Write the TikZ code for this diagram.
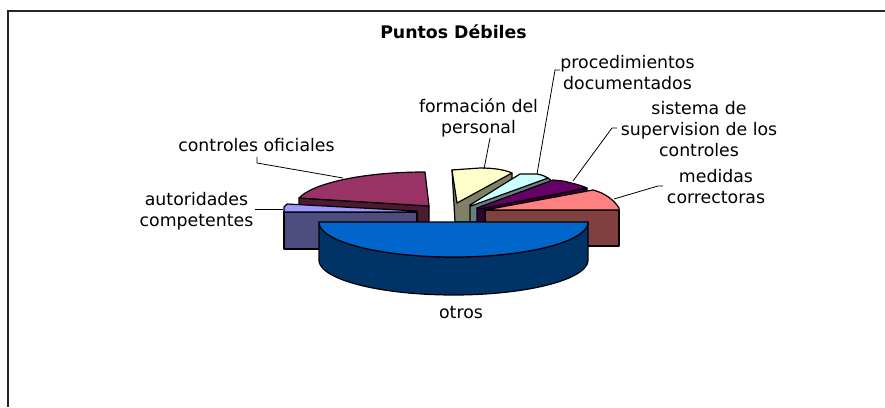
\documentclass[tikz,border=0pt]{standalone}
\usepackage{fontspec}
\setmainfont{DejaVu Sans}
\definecolor{coTop}{HTML}{993366}
\definecolor{coSide}{HTML}{4D1A33}
\definecolor{auTop}{HTML}{9999FF}
\definecolor{auSide}{HTML}{4D4D80}
\definecolor{foTop}{HTML}{FFFFCC}
\definecolor{foSide}{HTML}{808066}
\definecolor{prTop}{HTML}{CCFFFF}
\definecolor{prSide}{HTML}{668080}
\definecolor{siTop}{HTML}{660066}
\definecolor{siSide}{HTML}{330033}
\definecolor{meTop}{HTML}{FF8080}
\definecolor{meSide}{HTML}{804040}
\definecolor{otTop}{HTML}{0066CC}
\definecolor{otSide}{HTML}{003366}
\begin{document}
\begin{tikzpicture}[x=0.75pt,y=-0.75pt,
  lab/.style={font=\fontsize{13}{15.75}\selectfont, align=center, inner sep=0pt, anchor=base},
  sl/.style={draw=black, line width=0.9pt, line join=round},
  ldr/.style={draw=black, line width=0.6pt}]
\useasboundingbox (0,0) rectangle (885,407);
% frame
\draw[line width=1.3pt, black!85] (8,407) -- (8,10.7) -- (885,10.7);
% title
\node[font=\bfseries\fontsize{13}{15.5}\selectfont, anchor=base, inner sep=0pt] (title) at (453.5,38) {Puntos Débiles};

% controles oficiales
\filldraw[sl, fill=coSide] (299,198) -- (429,206) -- (429,240) -- (299,240) -- cycle;
\filldraw[sl, fill=coTop] (299,198) .. controls (312,184) and (360,172) .. (425,172) -- (429,206) -- cycle;
% autoridades competentes
\filldraw[sl, fill=auSide] (284,212) rectangle (417,249);
\filldraw[sl, fill=auTop] (284,207) -- (287,204) -- (417,211) -- (417,212) -- (284,212) -- cycle;
% formacion del personal
\filldraw[sl, fill=foSide] (452,170) -- (512,173) -- (512,200) -- (470,222) -- (455,222) -- cycle;
\filldraw[sl, fill=foTop] (452,170) -- (480,168) .. controls (495,168) and (505,170) .. (512,173) -- (457,203) -- cycle;
% procedimientos documentados
\filldraw[sl, fill=prSide] (470,205) -- (548,178) -- (553,182) -- (478,210) -- (478,222) -- (470,222) -- cycle;
\filldraw[sl, fill=prTop] (470,205) -- (520,174) -- (537,174) .. controls (542,175) and (545,176) .. (548,178) -- (471,206) -- cycle;
% sistema de supervision
\filldraw[sl, fill=siSide] (477,208) -- (587,188) -- (587,192) -- (485,212) -- (485,222) -- (477,222) -- cycle;
\filldraw[sl, fill=siTop] (477,208) -- (553,180) -- (563,181) .. controls (572,183) and (580,185) .. (587,188) -- (479,209) -- cycle;
% medidas correctoras
\filldraw[sl, fill=meSide] (485,210) rectangle (619,246);
\filldraw[sl, fill=meTop] (485,210) -- (593,190) .. controls (605,193) and (614,200) .. (619,208) -- (619,210) -- cycle;
% otros
\filldraw[sl, fill=otSide] (588,222) -- (588,260)
  -- plot[domain=0:180, samples=90] ({453.5+134.5*cos(\x)},{260+35*sin(\x)})
  -- (319,222)
  -- plot[domain=180:0, samples=90] ({453.5+134.5*cos(\x)},{222+35*sin(\x)}) -- cycle;
\filldraw[sl, fill=otTop] (319,222) -- (588,222)
  -- plot[domain=0:180, samples=90] ({453.5+134.5*cos(\x)},{222+35*sin(\x)}) -- cycle;

% labels (anchor = baseline of the last line)
\node[lab] (lco) at (256.5,151) {controles oficiales};
\node[lab] (lau) at (196.5,226) {autoridades\\competentes};
\node[lab] (lfo) at (478.5,133.5) {formación del\\personal};
\node[lab] (lpr) at (627.5,89) {procedimientos\\documentados};
\node[lab] (lsi) at (699,156) {sistema de\\supervision de los\\controles};
\node[lab] (lme) at (716,203) {medidas\\correctoras};
\node[lab] (lot) at (461,318) {otros};

% leader points
\coordinate (co1) at (257,157); \coordinate (co2) at (257,163); \coordinate (co3) at (343,178);
\coordinate (au1) at (255,209); \coordinate (au2) at (283,209);
\coordinate (fo1) at (490,138); \coordinate (fo2) at (484,169);
\coordinate (pr1) at (560,70); \coordinate (pr2) at (555,70); \coordinate (pr3) at (537,174);
\coordinate (si1) at (617,128); \coordinate (si2) at (612,128); \coordinate (si3) at (573,181);
\coordinate (me1) at (663,186); \coordinate (me2) at (658,186); \coordinate (me3) at (614,199);
\draw[ldr] (co1) -- (co2) -- (co3);
\draw[ldr] (au1) -- (au2);
\draw[ldr] (fo1) -- (fo2);
\draw[ldr] (pr1) -- (pr2) -- (pr3);
\draw[ldr] (si1) -- (si2) -- (si3);
\draw[ldr] (me1) -- (me2) -- (me3);
\end{tikzpicture}
\end{document}
